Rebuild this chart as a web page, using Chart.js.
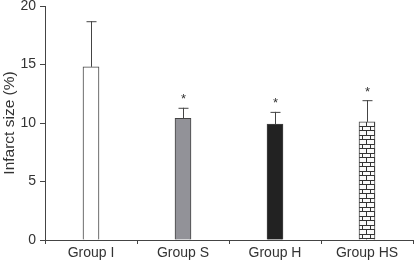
<!DOCTYPE html>
<html lang="en">
<head>
    <meta charset="UTF-8">
    <title>Infarct size</title>
    <style>
        body { margin: 0; background: #fff; }
        #chart-container { width: 415px; height: 264px; }
    </style>
    <script src="https://cdn.jsdelivr.net/npm/chart.js"></script>
</head>
<body>
<div id="chart-container">
    <canvas id="infarctChart"></canvas>
</div>
<script>
    const groups = ['Group I', 'Group S', 'Group H', 'Group HS'];
    const infarctSize = [14.8, 10.4, 9.9, 10.1];
    const errorUp = [3.9, 0.9, 1.05, 1.85];
    const significant = [false, true, true, true];
    const yTicks = [0, 5, 10, 15, 20];

    // brick fill for the last bar
    function brickPattern() {
        const c = document.createElement('canvas');
        c.width = 8; c.height = 9;
        const g = c.getContext('2d');
        g.fillStyle = '#fafafa';
        g.fillRect(0, 0, 8, 9);
        g.strokeStyle = '#333';
        g.lineWidth = 1;
        g.beginPath();
        g.moveTo(0, 0.5); g.lineTo(8, 0.5);
        g.moveTo(0, 4.5); g.lineTo(8, 4.5);
        g.moveTo(2.5, 0.5); g.lineTo(2.5, 4.5);
        g.moveTo(6.5, 4.5); g.lineTo(6.5, 9);
        g.stroke();
        return document.getElementById('infarctChart').getContext('2d').createPattern(c, 'repeat');
    }

    const errorBars = {
        id: 'errorBars',
        afterDatasetsDraw(chart) {
            const ctx = chart.ctx;
            const meta = chart.getDatasetMeta(0);
            const y = chart.scales.y;
            ctx.save();
            ctx.strokeStyle = '#444';
            ctx.lineWidth = 1;
            meta.data.forEach((bar, i) => {
                const x = Math.round(bar.x) + 0.5;
                const top = y.getPixelForValue(infarctSize[i] + errorUp[i]);
                ctx.beginPath();
                ctx.moveTo(x, bar.y);
                ctx.lineTo(x, top);
                ctx.moveTo(x - 5, top + 0.5);
                ctx.lineTo(x + 5, top + 0.5);
                ctx.stroke();
                if (significant[i]) {
                    ctx.fillStyle = '#333';
                    ctx.font = '13px "Liberation Sans", Arial, sans-serif';
                    ctx.textAlign = 'center';
                    ctx.textBaseline = 'middle';
                    ctx.fillText('*', x, top - 8);
                }
            });
            ctx.restore();
        }
    };

    const font = '"Liberation Sans", Arial, sans-serif';

    new Chart(document.getElementById('infarctChart'), {
        type: 'bar',
        data: {
            labels: groups,
            datasets: [{
                data: infarctSize,
                backgroundColor: ['#ffffff', '#929298', '#222222', brickPattern()],
                borderColor: '#444',
                borderWidth: 1,
                barThickness: 16
            }]
        },
        options: {
            responsive: true,
            maintainAspectRatio: false,
            animation: false,
            layout: { padding: { top: 0, right: 2, left: 0, bottom: 0 } },
            plugins: { legend: { display: false }, tooltip: { enabled: false } },
            scales: {
                x: {
                    grid: { drawOnChartArea: false, tickLength: 4, color: '#444' },
                    border: { color: '#444' },
                    ticks: { color: '#333', font: { family: font, size: 14 }, padding: 1 },
                    afterFit(axis) { axis.height = 24; }
                },
                y: {
                    min: 0, max: 20,
                    afterBuildTicks(axis) { axis.ticks = yTicks.map(v => ({ value: v })); },
                    grid: { drawOnChartArea: false, tickLength: 5, color: '#444' },
                    border: { color: '#444' },
                    ticks: { color: '#333', font: { family: font, size: 14 }, padding: 4 },
                    title: { display: true, text: 'Infarct size (%)', color: '#333', font: { family: font, size: 15.5 }, padding: 0 },
                    afterFit(axis) { axis.width = 45; axis.paddingTop = 6; axis.paddingBottom = 0; }
                }
            }
        },
        plugins: [errorBars]
    });
</script>
</body>
</html>
